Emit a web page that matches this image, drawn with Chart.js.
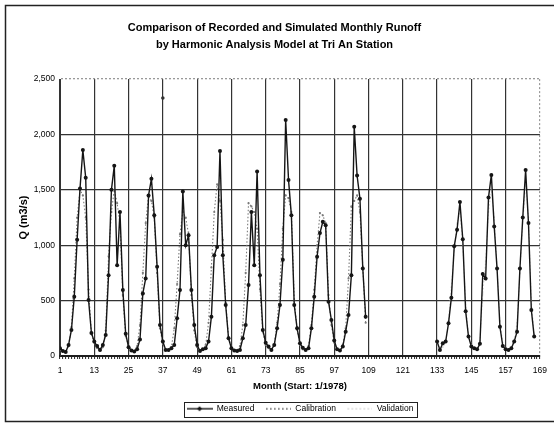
<!DOCTYPE html>
<html>
<head>
<meta charset="utf-8">
<script src="https://cdn.jsdelivr.net/npm/chart.js@4.4.1/dist/chart.umd.min.js"></script>
<style>
  html, body { margin: 0; padding: 0; background: #fff; }
</style>
</head>
<body>
<canvas id="grafico" width="554" height="423"></canvas>
<script>
// monthly runoff at Tri An, month 1 = Jan 1978
const gap = (n) => Array(n).fill(null);

const measured = [
  70, 45, 35, 100, 235, 535, 1050, 1513, 1860, 1610, 505, 208,
  130, 90, 55, 100, 190, 730, 1500, 1717, 820, 1300, 595, 200,
  80, 50, 40, 60, 150, 565, 700, 1450, 1600, 1270, 805, 280,
  130, 55, 55, 70, 100, 340, 595, 1485, 1000, 1090, 595, 280,
  100, 45, 60, 70, 130, 355, 910, 985, 1850, 910, 460, 160,
  70, 50, 45, 55, 160, 280, 640, 1300, 820, 1665, 730, 235,
  120, 85, 55, 100, 250, 460, 870, 2130, 1590, 1270, 460, 250,
  115, 75, 55, 70, 250, 535, 896, 1110, 1212, 1180, 490, 325,
  140, 60, 50, 85, 220, 370, 730, 2070, 1630, 1420, 790, 355,
  ...gap(24),
  130, 55, 115, 130, 295, 525, 990, 1140, 1390, 1055, 405, 175,
  85, 70, 60, 110, 740, 700, 1430, 1635, 1170, 790, 265, 90,
  60, 55, 70, 130, 220, 790, 1250, 1680, 1200, 415, 175
];

const calibration = [
  60, 40, 40, 90, 260, 700, 1250, 1500, 1450, 1250, 600, 200,
  120, 70, 50, 80, 230, 900, 1300, 1500, 1380, 1200, 550, 180,
  90, 50, 45, 90, 280, 750, 1200, 1450, 1400, 1250, 750, 250,
  110, 60, 50, 80, 250, 650, 1100, 1300, 1250, 1100, 550, 230,
  80, 50, 55, 100, 300, 800, 1300, 1550, 1400, 1050, 480, 170,
  70, 50, 50, 90, 280, 750, 1380, 1350, 1300, 1150, 600, 220,
  100, 70, 55, 100, 300, 650, 1150, 1450, 1425, 1300, 500, 240,
  100, 60, 55, 90, 280, 600, 1000, 1290, 1270, 1200, 550, 280,
  120, 60, 50, 100, 250, 700, 1350, 1400, 1450, 1300, 800, 300
];

const validation = [
  ...gap(36), 2330, ...gap(95),
  120, 70, 80, 120, 320, 620, 950, 1200, 1300, 1000, 480, 190,
  100, 70, 70, 140, 560, 850, 1300, 1500, 1250, 800, 320, 120,
  70, 60, 80, 150, 300, 750, 1200, 1550, 1250, 500, 200
];

const xTicks = [1, 13, 25, 37, 49, 61, 73, 85, 97, 109, 121, 133, 145, 157, 169];
const yTicks = [0, 500, 1000, 1500, 2000, 2500];
const meses = Array.from({ length: 169 }, (v, i) => i + 1);

const fuente = "'Liberation Sans', Arial, sans-serif";
Chart.defaults.font.family = fuente;

const puntos = (arr) => arr.map((v, i) => ({ x: i + 1, y: v }));

// little line samples for the legend
const icono = (dibujar) => {
  const c = document.createElement("canvas");
  c.width = 26;
  c.height = 8;
  dibujar(c.getContext("2d"));
  return c;
};
const iconos = [
  icono((g) => {
    g.strokeStyle = "#111";
    g.lineWidth = 1.4;
    g.beginPath(); g.moveTo(0, 4); g.lineTo(26, 4); g.stroke();
    g.fillStyle = "#111";
    g.beginPath(); g.moveTo(13, 1.5); g.lineTo(15.5, 4); g.lineTo(13, 6.5); g.lineTo(10.5, 4); g.fill();
  }),
  icono((g) => {
    g.fillStyle = "#666";
    for (let x = 1; x < 26; x += 4) g.fillRect(x, 3.3, 1.6, 1.6);
  }),
  icono((g) => {
    g.fillStyle = "#d0d0d0";
    for (let x = 1; x < 26; x += 4) g.fillRect(x, 3.3, 1.5, 1.5);
  }),
];

// outer frame and the box around the legend
const marco = {
  id: "marco",
  afterDraw(chart) {
    const c = chart.ctx;
    c.save();
    c.strokeStyle = "#222";
    c.lineWidth = 1.5;
    c.strokeRect(5.5, 5.5, 560, 416);
    const cajas = chart.legend.legendHitBoxes;
    if (cajas && cajas.length) {
      const izq = Math.min(...cajas.map((b) => b.left)) - 3;
      const der = Math.max(...cajas.map((b) => b.left + b.width)) + 3;
      const arr = Math.min(...cajas.map((b) => b.top)) - 3;
      const aba = Math.max(...cajas.map((b) => b.top + b.height)) + 3;
      c.lineWidth = 1;
      c.strokeStyle = "#222";
      c.strokeRect(Math.round(izq) + 0.5, Math.round(arr) + 0.5, Math.round(der - izq), Math.round(aba - arr));
    }
    c.restore();
  },
};

const aislado = (ctx) => {
  const d = ctx.dataset.data;
  const i = ctx.dataIndex;
  return (!d[i - 1] || d[i - 1].y === null) && (!d[i + 1] || d[i + 1].y === null);
};

const ctx = document.getElementById("grafico").getContext("2d");

const grafico = new Chart(ctx, {
  type: "line",
  data: {
    datasets: [
      {
        label: "Measured",
        data: puntos(measured),
        borderColor: "#151515",
        borderWidth: 1.4,
        pointRadius: 2,
        pointBackgroundColor: "#151515",
        pointBorderWidth: 0,
      },
      {
        label: "Calibration",
        data: puntos(calibration),
        borderColor: "#7a7a7a",
        borderWidth: 1.1,
        borderDash: [1.5, 2],
        pointRadius: 1.1,
        pointBackgroundColor: "#7a7a7a",
        pointBorderWidth: 0,
      },
      {
        label: "Validation",
        data: puntos(validation),
        borderColor: "#cfcfcf",
        borderWidth: 1,
        borderDash: [1.5, 2],
        pointRadius: (c) => (aislado(c) ? 1.8 : 0.8),
        pointBackgroundColor: (c) => (aislado(c) ? "#333" : "#cfcfcf"),
        pointBorderWidth: 0,
      },
    ],
  },
  options: {
    responsive: false,
    animation: false,
    layout: { padding: { left: 6, right: 11, top: 6, bottom: 0 } },
    scales: {
      x: {
        type: "linear",
        min: 1,
        max: 169,
        afterBuildTicks: (scale) => {
          scale.ticks = meses.map((v) => ({ value: v }));
        },
        afterFit: (scale) => {
          scale.height = 38;
        },
        ticks: {
          autoSkip: false,
          maxRotation: 0,
          padding: 7,
          color: "#000",
          font: { size: 8.5 },
          callback: (v) => (xTicks.includes(v) ? v : ""),
        },
        grid: {
          color: (c) => {
            if (!c.tick || !xTicks.includes(c.tick.value)) return "rgba(0,0,0,0)";
            return c.tick.value === 169 ? "#999" : "#333";
          },
          lineWidth: 1.2,
          tickColor: "#222",
          tickLength: 3,
          tickWidth: 1,
        },
        border: {
          color: "#1e1e1e",
          width: 2,
          dash: (c) => (c.tick && c.tick.value === 169 ? [2, 2] : []),
        },
        title: {
          display: true,
          text: "Month (Start: 1/1978)",
          color: "#000",
          font: { size: 9.5, weight: "bold" },
          padding: { top: 2, bottom: 1.5 },
        },
      },
      y: {
        min: 0,
        max: 2500,
        afterBuildTicks: (scale) => {
          scale.ticks = yTicks.map((v) => ({ value: v }));
        },
        afterFit: (scale) => {
          scale.width = 54;
        },
        ticks: {
          padding: 5,
          color: "#000",
          font: { size: 8.5 },
          callback: (v) => v.toLocaleString("en-US"),
        },
        grid: {
          color: (c) => (c.tick && c.tick.value === 2500 ? "#999" : "#333"),
          lineWidth: 1.3,
          drawTicks: false,
        },
        border: {
          color: "#333",
          width: 1,
          dash: (c) => (c.tick && c.tick.value === 2500 ? [2, 2] : []),
        },
        title: {
          display: true,
          text: "Q (m3/s)",
          color: "#000",
          font: { size: 11, weight: "bold" },
          padding: { top: 11, bottom: 0 },
        },
      },
    },
    plugins: {
      title: {
        display: true,
        text: [
          "Comparison of Recorded and Simulated Monthly Runoff",
          "by Harmonic Analysis Model at Tri An Station",
        ],
        color: "#000",
        font: { size: 11, weight: "bold", lineHeight: 1.55 },
        padding: { top: 13, bottom: 26 },
      },
      legend: {
        position: "bottom",
        fullSize: false,
        labels: {
          usePointStyle: true,
          pointStyleWidth: 26,
          padding: 10.5,
          color: "#000",
          font: { size: 8.5 },
          generateLabels: (chart) =>
            chart.data.datasets.map((ds, i) => ({
              text: ds.label,
              pointStyle: iconos[i],
              datasetIndex: i,
              fillStyle: "rgba(0,0,0,0)",
              strokeStyle: "rgba(0,0,0,0)",
              lineWidth: 0,
              fontColor: "#000",
              hidden: false,
            })),
        },
      },
      tooltip: { enabled: false },
    },
  },
  plugins: [marco],
});
</script>
</body>
</html>
